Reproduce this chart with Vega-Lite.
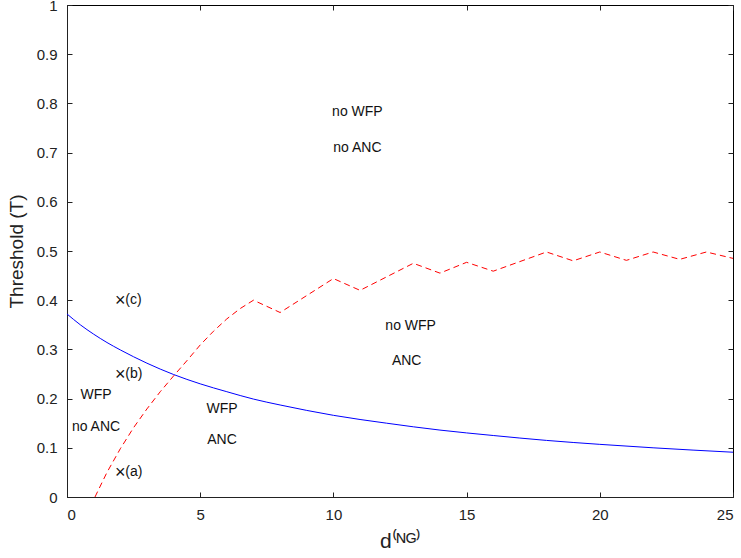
{
  "$schema": "https://vega.github.io/schema/vega-lite/v6.json",
  "width": 666,
  "height": 492,
  "autosize": "none",
  "padding": {"left": 67, "top": 5, "right": 8, "bottom": 61},
  "background": "white",
  "config": {
    "view": {"stroke": "black", "strokeWidth": 1},
    "font": "Liberation Sans",
    "axis": {
      "domainColor": "#222",
      "tickColor": "#222",
      "labelColor": "#222",
      "titleColor": "#222",
      "grid": false,
      "tickSize": -5,
      "labelFont": "Liberation Sans",
      "labelFontSize": 15,
      "titleFont": "Liberation Sans",
      "titleFontWeight": "normal"
    },
    "text": {"font": "Liberation Sans", "fontSize": 14, "color": "#111"}
  },
  "datasets": {
    "blue": [
      {"d": 0, "T": 0.372}, {"d": 0.5, "T": 0.350}, {"d": 1, "T": 0.331}, {"d": 1.5, "T": 0.314}, {"d": 2, "T": 0.299}, {"d": 3, "T": 0.272},
      {"d": 4, "T": 0.249}, {"d": 5, "T": 0.230}, {"d": 6, "T": 0.214}, {"d": 7, "T": 0.199},
      {"d": 8, "T": 0.187}, {"d": 9, "T": 0.176}, {"d": 10, "T": 0.166}, {"d": 12, "T": 0.150},
      {"d": 14, "T": 0.136}, {"d": 16, "T": 0.125}, {"d": 18, "T": 0.115}, {"d": 20, "T": 0.107},
      {"d": 22, "T": 0.100}, {"d": 25, "T": 0.091}
    ],
    "red": [
      {"d": 1.05, "T": 0}, {"d": 1.5, "T": 0.05}, {"d": 2, "T": 0.098}, {"d": 2.5, "T": 0.141},
      {"d": 3, "T": 0.179}, {"d": 3.5, "T": 0.214}, {"d": 4, "T": 0.246}, {"d": 4.5, "T": 0.277},
      {"d": 5, "T": 0.309}, {"d": 5.5, "T": 0.337}, {"d": 6, "T": 0.362}, {"d": 6.5, "T": 0.383},
      {"d": 7, "T": 0.4}, {"d": 8, "T": 0.375}, {"d": 10, "T": 0.444}, {"d": 11, "T": 0.42},
      {"d": 13, "T": 0.475}, {"d": 14, "T": 0.455}, {"d": 15, "T": 0.477}, {"d": 16, "T": 0.459},
      {"d": 18, "T": 0.498}, {"d": 19, "T": 0.48}, {"d": 20, "T": 0.498}, {"d": 21, "T": 0.481},
      {"d": 22, "T": 0.498}, {"d": 23, "T": 0.483}, {"d": 24, "T": 0.498}, {"d": 25, "T": 0.485}
    ],
    "regions": [
      {"d": 10.9, "T": 0.782, "label": "no WFP"},
      {"d": 10.9, "T": 0.709, "label": "no ANC"},
      {"d": 12.9, "T": 0.348, "label": "no WFP"},
      {"d": 12.75, "T": 0.276, "label": "ANC"},
      {"d": 5.82, "T": 0.179, "label": "WFP"},
      {"d": 5.82, "T": 0.116, "label": "ANC"},
      {"d": 1.09, "T": 0.207, "label": "WFP"},
      {"d": 1.09, "T": 0.142, "label": "no ANC"}
    ],
    "points": [
      {"d": 2, "T": 0.4, "label": "(c)"},
      {"d": 2, "T": 0.25, "label": "(b)"},
      {"d": 2, "T": 0.05, "label": "(a)"}
    ]
  },
  "resolve": {"axis": {"x": "independent", "y": "independent"}},
  "layer": [
    {
      "data": {"name": "blue"},
      "mark": {"type": "line", "color": "#0000ff", "strokeWidth": 1, "clip": true, "interpolate": "monotone"},
      "encoding": {
        "x": {"field": "d", "type": "quantitative", "scale": {"domain": [0, 25], "nice": false},
              "axis": {"values": [0, 5, 10, 15, 20, 25], "title": "d⁽ᴺᴳ⁾", "titleFontSize": 21, "labelPadding": 15, "titlePadding": 8}},
        "y": {"field": "T", "type": "quantitative", "scale": {"domain": [0, 1], "nice": false},
              "axis": {"values": [0, 0.1, 0.2, 0.3, 0.4, 0.5, 0.6, 0.7, 0.8, 0.9, 1], "format": "~g", "title": "Threshold (T)", "titleFontSize": 19, "labelPadding": 15, "titlePadding": 10}}
      }
    },
    {
      "data": {"name": "red"},
      "mark": {"type": "line", "color": "#ff0000", "strokeWidth": 1, "strokeDash": [6, 4], "clip": true},
      "encoding": {
        "x": {"field": "d", "type": "quantitative",
              "axis": {"orient": "top", "values": [0, 5, 10, 15, 20, 25], "labels": false, "title": null, "domain": false}},
        "y": {"field": "T", "type": "quantitative",
              "axis": {"orient": "right", "values": [0, 0.1, 0.2, 0.3, 0.4, 0.5, 0.6, 0.7, 0.8, 0.9, 1], "labels": false, "title": null, "domain": false}}
      }
    },
    {
      "data": {"name": "regions"},
      "mark": {"type": "text", "align": "center", "baseline": "middle"},
      "encoding": {
        "x": {"field": "d", "type": "quantitative", "axis": null},
        "y": {"field": "T", "type": "quantitative", "axis": null},
        "text": {"field": "label"}
      }
    },
    {
      "data": {"name": "points"},
      "mark": {"type": "text", "align": "center", "baseline": "middle", "fontSize": 18, "dy": 1},
      "encoding": {
        "x": {"field": "d", "type": "quantitative", "axis": null},
        "y": {"field": "T", "type": "quantitative", "axis": null},
        "text": {"value": "×"}
      }
    },
    {
      "data": {"name": "points"},
      "mark": {"type": "text", "align": "left", "baseline": "middle", "dx": 5, "fontSize": 14},
      "encoding": {
        "x": {"field": "d", "type": "quantitative", "axis": null},
        "y": {"field": "T", "type": "quantitative", "axis": null},
        "text": {"field": "label"}
      }
    }
  ]
}
